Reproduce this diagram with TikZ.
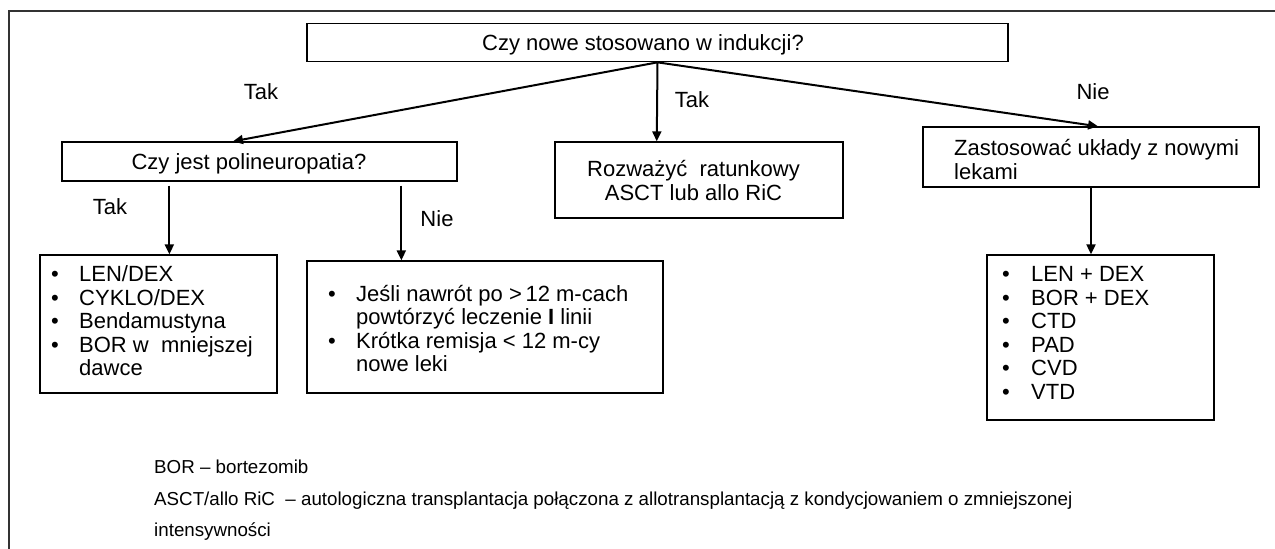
\documentclass[tikz,border=0pt]{standalone}
\usepackage{fontspec}
\setmainfont{Liberation Sans}
\usetikzlibrary{arrows.meta,calc}
\begin{document}
\begin{tikzpicture}[x=1pt,y=-1pt,
  box/.style={draw=black,line width=1.3pt,rectangle,inner sep=0pt},
  txt/.style={inner sep=0pt,font=\fontsize{22}{23.5}\selectfont,anchor=base},
  itm/.style={inner sep=0pt,font=\fontsize{22}{23.5}\selectfont,anchor=base west},
  bul/.style={inner sep=0pt,font=\fontsize{22}{23.5}\selectfont,anchor=base},
  note/.style={inner sep=0pt,font=\fontsize{18.75}{20}\selectfont,anchor=base west},
  arr/.style={line width=2pt,-{Triangle[length=10pt,width=9pt]}},
  frame/.style={draw=black!80,line width=1.3pt}]
\useasboundingbox (0,0) rectangle (1275,549);
% outer frame
\draw[frame] (9,549) -- (9,11) -- (1275,11);
% boxes
\node[box,minimum width=701,minimum height=38.4] (top) at (657.5,42.5) {};
\node[box,minimum width=395,minimum height=39] (lb) at (259.5,161.5) {};
\node[box,minimum width=288,minimum height=76] (mb) at (699,180) {};
\node[box,minimum width=336,minimum height=60] (rb) at (1091,157) {};
\node[box,minimum width=237,minimum height=138] (bl) at (158.5,324) {};
\node[box,minimum width=356,minimum height=132] (bm) at (485,327) {};
\node[box,minimum width=227,minimum height=165] (br) at (1100.5,337.5) {};
% box texts
\node[txt] (tt) at (643,50.7) {Czy nowe stosowano w indukcji?};
\node[txt] (lt) at (249,169.5) {Czy jest polineuropatia?};
\node[txt] (m1) at (693.5,176) {Rozważyć\ \ ratunkowy};
\node[txt] (m2) at (693.5,200.5) {ASCT lub allo RiC};
\node[itm] (r1) at (954,155) {Zastosować układy z nowymi};
\node[itm] (r2) at (954,179.3) {lekami};
% bottom-left list
\foreach \t [count=\i] in {LEN/DEX,CYKLO/DEX,Bendamustyna,{BOR w\ \ mniejszej}} {
  \node[bul] (blb\i) at (55,{281.5+23.5*(\i-1)}) {•};
  \node[itm] (bli\i) at (79,{281.5+23.5*(\i-1)}) {\t};
}
\node[itm] (bli5) at (79,375.5) {dawce};
% bottom-middle list
\node[bul] (bmb1) at (332,301.5) {•};
\node[itm] (bmi1) at (356,301.5) {Jeśli nawrót po >\,12 m-cach};
\node[itm] (bmi2) at (356,324.8) {powtórzyć leczenie \textbf{I} linii};
\node[bul] (bmb2) at (332,348.1) {•};
\node[itm] (bmi3) at (356,348.1) {Krótka remisja < 12 m-cy};
\node[itm] (bmi4) at (356,371.4) {nowe leki};
% bottom-right list
\foreach \t [count=\i] in {LEN + DEX,BOR + DEX,CTD,PAD,CVD,VTD} {
  \node[bul] (brb\i) at (1006,{281.7+23.5*(\i-1)}) {•};
  \node[itm] (bri\i) at (1031,{281.7+23.5*(\i-1)}) {\t};
}
% branch labels
\node[txt] (l1) at (261,99.3) {Tak};
\node[txt] (l2) at (110,214) {Tak};
\node[txt] (l3) at (437,226.7) {Nie};
\node[txt] (l4) at (692,107.3) {Tak};
\node[txt] (l5) at (1093,99.3) {Nie};
% connectors
\draw[arr] (top.south) -- ($(lb.north west)!0.433!(lb.north east)$);
\draw[arr] (top.south) -- ($(mb.north west)!0.354!(mb.north east)$);
\draw[arr] (top.south) -- ($(rb.north west)!0.521!(rb.north east)$);
\coordinate (s1) at ($(lb.south west)+(108,4)$);
\coordinate (s2) at ($(lb.south west)+(340,4)$);
\draw[arr] (s1) -- (s1 |- bl.north);
\draw[arr] (s2) -- (s2 |- bm.north);
\draw[arr] (rb.south) -- (rb.south |- br.north);
% footnotes
\node[note] (n1) at (154,473.3) {BOR – bortezomib};
\node[note] (n2) at (154,505.7) {ASCT/allo RiC\ \ – autologiczna transplantacja połączona z allotransplantacją z kondycjowaniem o zmniejszonej};
\node[note] (n3) at (154,536.7) {intensywności};
\end{tikzpicture}
\end{document}
